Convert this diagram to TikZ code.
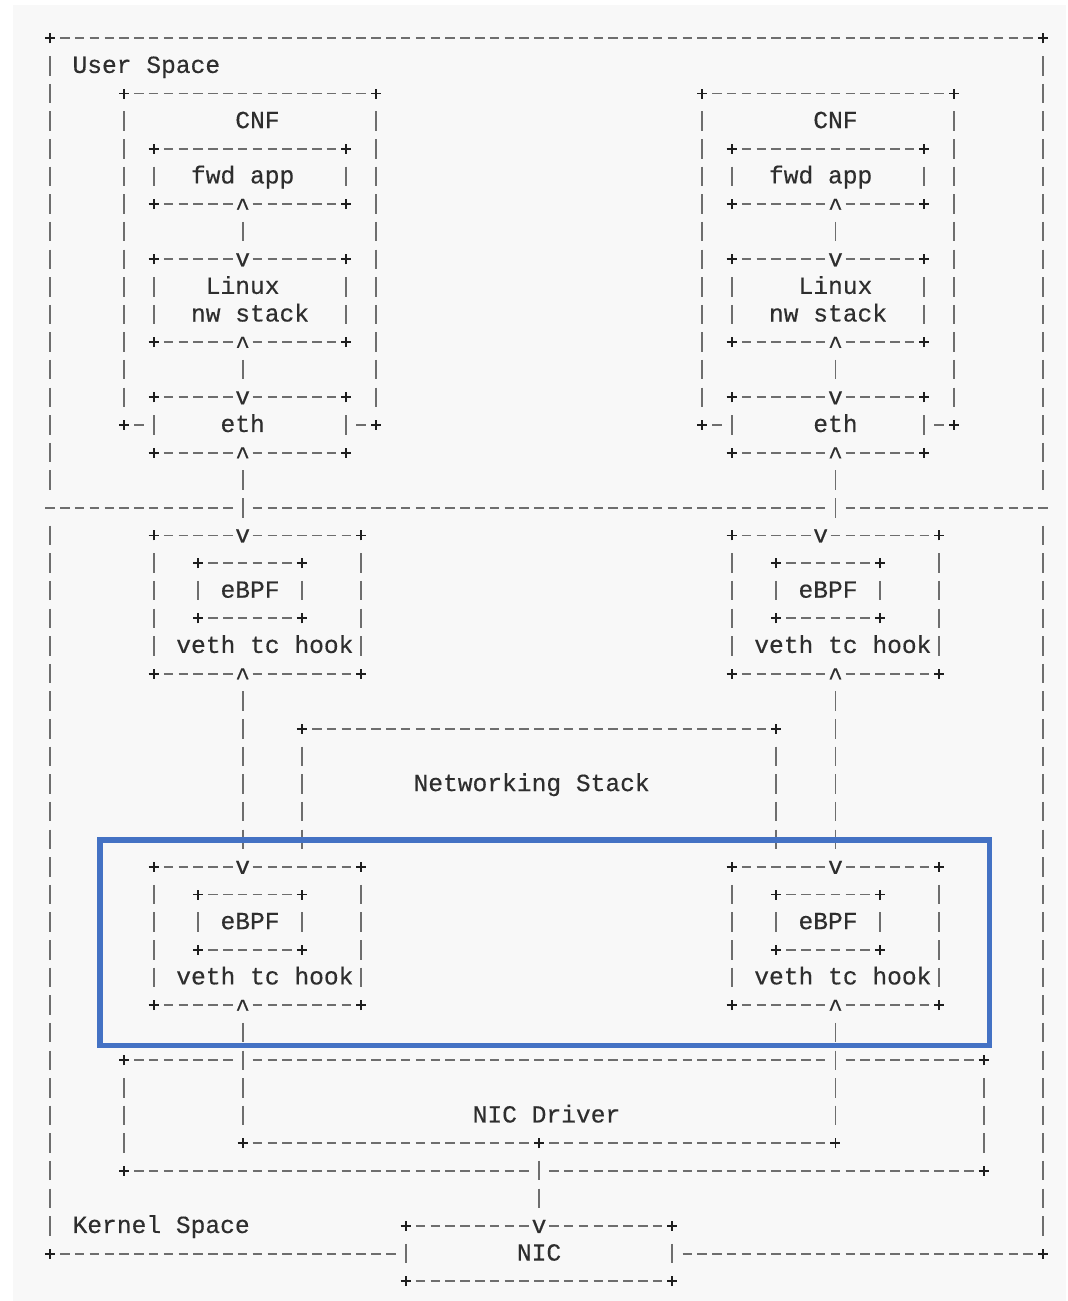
\documentclass[tikz,border=0pt]{standalone}
\usepackage{fontspec}
\newfontfamily\asciimono[FakeBold=0.35]{Liberation Mono}
\usetikzlibrary{fit}
\pgfdeclarelayer{glyphs}
\pgfsetlayers{main,glyphs}

\definecolor{bgc}{HTML}{F8F8F8}
\definecolor{txt}{HTML}{2E2E2E}
\definecolor{rulec}{HTML}{6E6E6E}
\definecolor{plusc}{HTML}{1E1E1E}
\definecolor{hl}{HTML}{4472C4}

% character grid: one column = 14.82pt, one row = 27.62pt
\tikzset{
  hrule/.style={draw=rulec, line width=1.9pt, dash pattern=on 9.5pt off 5.32pt, dash phase=12.16pt},
  vrule/.style={draw=rulec, line width=1.9pt, dash pattern=on 19.5pt off 8.12pt, dash phase=23.56pt},
  crossmark/.style={draw=plusc, line width=1.9pt},
  lbl/.style={inner sep=0pt, text height=17pt, text depth=3pt,
    font=\asciimono\fontsize{24.6pt}{28pt}\selectfont, text=txt},
  tipglyph/.style={lbl, fill=bgc, minimum width=14.8pt},
  frame/.style={inner sep=0pt},
  conn/.style={vrule, shorten <=13.81pt, shorten >=13.81pt,
    preaction={draw=bgc, solid, line width=12pt}},
  focus/.style={draw=hl, line width=5.5pt, inner sep=0pt}
}

% row of '-' from column #2 to column #3 on row #1
\newcommand\hd[3]{\draw[hrule] ({#2-0.5},#1) -- ({#3+0.5},#1);}
% column of '|' on column #1 from row #2 to row #3
\newcommand\vd[3]{\draw[vrule] (#1,{#2-0.5}) -- (#1,{#3+0.5});}
% '+' corner mark
\newcommand\pl[2]{\begin{pgfonlayer}{glyphs}\draw[crossmark] (#1,#2) +(-5pt,0pt) -- +(5pt,0pt) +(0pt,-5pt) -- +(0pt,5pt);\end{pgfonlayer}}
% dashed box: name, left col, top row, right col, bottom row
\newcommand\boxnode[5]{%
  \fill[bgc] ({#2-0.35},#3) rectangle ({#4+0.35},#5);
  \node[frame, fit={(#2,#3) (#4,#5)}] (#1) {};
  \hd{#3}{#2+1}{#4-1}\hd{#5}{#2+1}{#4-1}%
  \vd{#2}{#3+1}{#5-1}\vd{#4}{#3+1}{#5-1}%
  \pl{#2}{#3}\pl{#4}{#3}\pl{#2}{#5}\pl{#4}{#5}}
% arrow glyphs on box edges
\newcommand\tipdown[3]{\begin{pgfonlayer}{glyphs}\node[tipglyph] (#1) at (#2,#3) {v};\end{pgfonlayer}}
\newcommand\tipup[3]{\begin{pgfonlayer}{glyphs}\node[tipglyph] (#1) at (#2,#3) {\raisebox{-4pt}{\textasciicircum}};\end{pgfonlayer}}
% text label
\newcommand\lab[4]{\begin{pgfonlayer}{glyphs}\node[lbl] (#1) at (#2,#3) {#4};\end{pgfonlayer}}

\begin{document}
\begin{tikzpicture}[x=14.82pt, y=-27.62pt]
\useasboundingbox (-50pt,38.3pt) rectangle (1018pt,-1262.7pt);
\fill[white] (-50pt,38.3pt) rectangle (1018pt,-1262.7pt);
\fill[bgc] (-37pt,33.3pt) rectangle (1016pt,-1262.7pt);

% outer frame: user space above, kernel space below
\node[frame, fit={(0,0) (67,44)}] (host) {};
\pl{0}{0}\pl{67}{0}\hd{0}{1}{66}
\vd{0}{1}{16}\vd{67}{1}{16}
\hd{17}{0}{67}
\vd{0}{18}{43}\vd{67}{18}{43}
\pl{0}{44}\pl{67}{44}\hd{44}{1}{66}
\lab{us}{6.5}{1}{User Space}
\lab{ks}{7.5}{43}{Kernel Space}

% left CNF
\boxnode{cnfL}{5}{2}{22}{14}
\lab{cnfL-t}{14}{3}{CNF}
\boxnode{fwdL}{7}{4}{20}{6}
\lab{fwdL-t}{13}{5}{fwd app}
\boxnode{linL}{7}{8}{20}{11}
\lab{linL-t1}{13}{9}{Linux}
\lab{linL-t2}{13.5}{10}{nw stack}
\boxnode{ethL}{7}{13}{20}{15}
\lab{ethL-t}{13}{14}{eth}

% right CNF
\boxnode{cnfR}{44}{2}{61}{14}
\lab{cnfR-t}{53}{3}{CNF}
\boxnode{fwdR}{46}{4}{59}{6}
\lab{fwdR-t}{52}{5}{fwd app}
\boxnode{linR}{46}{8}{59}{11}
\lab{linR-t1}{53}{9}{Linux}
\lab{linR-t2}{52.5}{10}{nw stack}
\boxnode{ethR}{46}{13}{59}{15}
\lab{ethR-t}{53}{14}{eth}

% upper veth tc hooks
\boxnode{vethUL}{7}{18}{21}{23}
\boxnode{bpfUL}{10}{19}{17}{21}
\lab{bpfUL-t}{13.5}{20}{eBPF}
\lab{vethUL-t}{14.5}{22}{veth tc hook}
\boxnode{vethUR}{46}{18}{60}{23}
\boxnode{bpfUR}{49}{19}{56}{21}
\lab{bpfUR-t}{52.5}{20}{eBPF}
\lab{vethUR-t}{53.5}{22}{veth tc hook}

% networking stack (open at the bottom)
\node[frame, fit={(17,25) (49,29)}] (nws) {};
\pl{17}{25}\pl{49}{25}\hd{25}{18}{48}
\vd{17}{26}{29}\vd{49}{26}{29}
\lab{nws-t}{32.5}{27}{Networking Stack}

% lower veth tc hooks
\boxnode{vethLL}{7}{30}{21}{35}
\boxnode{bpfLL}{10}{31}{17}{33}
\lab{bpfLL-t}{13.5}{32}{eBPF}
\lab{vethLL-t}{14.5}{34}{veth tc hook}
\boxnode{vethLR}{46}{30}{60}{35}
\boxnode{bpfLR}{49}{31}{56}{33}
\lab{bpfLR-t}{52.5}{32}{eBPF}
\lab{vethLR-t}{53.5}{34}{veth tc hook}

% NIC driver with the merge line inside
\boxnode{drv}{5}{37}{63}{41}
\lab{drv-t}{33.5}{39}{NIC Driver}
\coordinate (mgL) at (13,40);
\coordinate (mgM) at (33,40);
\coordinate (mgR) at (53,40);
\hd{40}{14}{32}\hd{40}{34}{52}
\pl{13}{40}\pl{33}{40}\pl{53}{40}

% NIC
\boxnode{nic}{24}{43}{42}{45}
\lab{nic-t}{33}{44}{NIC}

% arrow glyphs
\tipup{fwdL-o}{13}{6}
\tipdown{linL-i}{13}{8}
\tipup{linL-o}{13}{11}
\tipdown{ethL-i}{13}{13}
\tipup{ethL-o}{13}{15}
\tipdown{vethUL-i}{13}{18}
\tipup{vethUL-o}{13}{23}
\tipdown{vethLL-i}{13}{30}
\tipup{vethLL-o}{13}{35}
\tipup{fwdR-o}{53}{6}
\tipdown{linR-i}{53}{8}
\tipup{linR-o}{53}{11}
\tipdown{ethR-i}{53}{13}
\tipup{ethR-o}{53}{15}
\tipdown{vethUR-i}{52}{18}
\tipup{vethUR-o}{53}{23}
\tipdown{vethLR-i}{53}{30}
\tipup{vethLR-o}{53}{35}
\tipdown{nic-i}{33}{43}

% connectors
\draw[conn] (fwdL-o.center) -- (linL-i.center);
\draw[conn] (linL-o.center) -- (ethL-i.center);
\draw[conn] (ethL-o.center) -- (vethUL-i.center);
\draw[conn] (vethUL-o.center) -- (vethLL-i.center);
\draw[conn] (vethLL-o.center) -- (mgL);
\draw[conn] (fwdR-o.center) -- (linR-i.center);
\draw[conn] (linR-o.center) -- (ethR-i.center);
\draw[conn] (ethR-o.center) -- (ethR-o.center |- vethUR-i.center);
\draw[conn] (vethUR-o.center) -- (vethLR-i.center);
\draw[conn] (vethLR-o.center) -- (mgR);
\draw[conn] (mgM) -- (nic-i.center);

% highlight around the lower hooks
\begin{pgfonlayer}{glyphs}
\node[focus, fit={(3.374,29.03) (63.39,36.47)}] (hooks) {};
\end{pgfonlayer}
\end{tikzpicture}
\end{document}
